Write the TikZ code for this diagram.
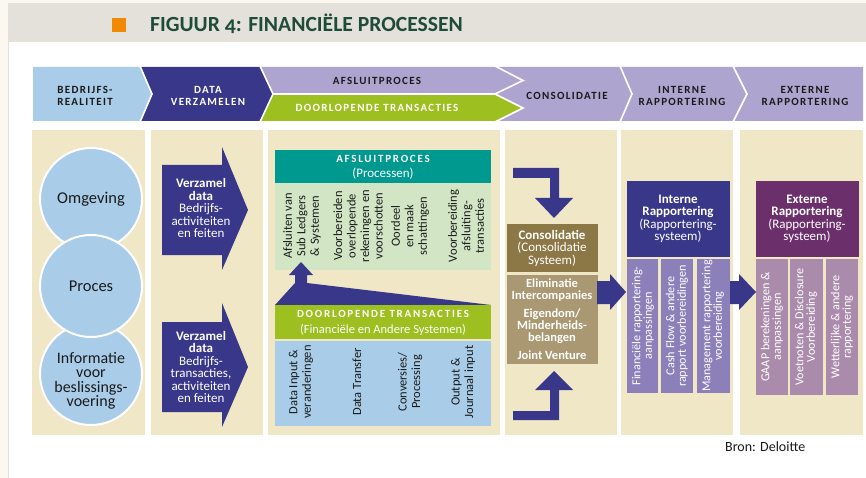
\documentclass[tikz,border=0pt]{standalone}
\usepackage{fontspec}
\setmainfont{Carlito}
\newfontfamily\capsfont[LetterSpace=12]{Carlito}
\newfontfamily\wcapsfont[LetterSpace=16]{Carlito}
\newfontfamily\titlefont[Numbers=OldStyle]{Carlito}
\usetikzlibrary{positioning}
\definecolor{pgoffwhite}{HTML}{FDF8EF}
\definecolor{pghead}{HTML}{E3E1DA}
\definecolor{pgtitle}{HTML}{1F4B3B}
\definecolor{pgorange}{HTML}{F08A00}
\definecolor{pgsky}{HTML}{A9CDE9}
\definecolor{pgnavy}{HTML}{393789}
\definecolor{pglav}{HTML}{ADA5CF}
\definecolor{pglime}{HTML}{9DBF1F}
\definecolor{pgbeige}{HTML}{F0E7C7}
\definecolor{pgteal}{HTML}{00998F}
\definecolor{pgmint}{HTML}{D2E6C6}
\definecolor{pgbrown}{HTML}{8C7846}
\definecolor{pgsand}{HTML}{AA9872}
\definecolor{pgviolet}{HTML}{8B80B9}
\definecolor{pgplum}{HTML}{6B2F6B}
\definecolor{pgmauve}{HTML}{AA8BAB}
\definecolor{pgink}{HTML}{1A1A1A}

\tikzset{
  sep/.style={draw=white,line width=1.6pt},
  caps/.style={font=\capsfont\fontsize{11}{12.5}\selectfont\bfseries,
               text=pgink,align=center,inner sep=0pt},
  boxcaps/.style={caps,text=white,font=\wcapsfont\fontsize{11}{12}\selectfont\bfseries},
  bubble/.style={circle,fill=pgsky,draw=white,line width=2pt,
                 minimum size=102pt,inner sep=0pt,align=center,
                 font=\fontsize{16.5}{14}\selectfont,text=pgink},
  wtxt/.style={text=white,align=center,inner sep=0pt,
               font=\fontsize{13}{12.5}\selectfont},
  coltxt/.style={rotate=90,align=center,inner sep=0pt,text=pgink,
                 font=\fontsize{12.5}{13.5}\selectfont},
  smallcol/.style={coltxt,text=white,font=\fontsize{12.2}{11.5}\selectfont},
}

\begin{document}
\begin{tikzpicture}[x=1pt,y=-1pt]
  \useasboundingbox (0,0) rectangle (866,478);

  % ---- Page and title bar ----------------------------------------
  \fill[pgoffwhite] (0,0) rectangle (866,478);
  \fill[white] (8,3) rectangle (866,478);
  \draw[black!12] (8.5,42) -- (8.5,478);
  \fill[pghead] (8,3) rectangle (866,42);
  \fill[pgorange] (112,18) rectangle (126,32);
  \node[anchor=base west,inner sep=0pt,text=pgtitle,
        font=\titlefont\fontsize{21.6}{21}\selectfont\bfseries]
    (title) at (150,32) {FIGUUR 4: FINANCIËLE PROCESSEN};

  % ---- Phase band --------------------------------------------------
  \fill[pgsky]  (33,67) -- (140,67) -- (152,94) -- (140,121) -- (33,121) -- cycle;
  \fill[pgnavy] (140,67) -- (260,67) -- (273,94) -- (260,121) -- (140,121)
                -- (152,94) -- cycle;
  \fill[pglav]  (260,67) -- (863,67) -- (863,121) -- (260,121) -- (273,94) -- cycle;
  \fill[pglime] (273,94) -- (495,94) -- (523,108) -- (495,121) -- (260,121) -- cycle;
  % white seams between the chevrons
  \draw[sep] (140,66) -- (152,94) -- (140,122);
  \draw[sep] (260,66) -- (273,94) -- (260,122);
  \draw[sep] (273,94) -- (495,94);
  \draw[sep] (495,66) -- (523,80.5) -- (495,94) -- (523,108) -- (495,122);
  \draw[sep] (620,66) -- (632,94) -- (620,122);
  \draw[sep] (733,66) -- (747,94) -- (733,122);

  \node[caps] (phreal) at (85,96) {BEDRIJFS-\\REALITEIT};
  \node[caps,text=white] (phdata) at (208,96) {DATA\\VERZAMELEN};
  \node[caps] (phclose) at (377,81) {AFSLUITPROCES};
  \node[caps,text=white] (phrun) at (377,108) {DOORLOPENDE TRANSACTIES};
  \node[caps] (phcons) at (567,96) {CONSOLIDATIE};
  \node[caps] (phint) at (682,96) {INTERNE\\RAPPORTERING};
  \node[caps] (phext) at (805,96) {EXTERNE\\RAPPORTERING};

  % ---- Column panels -----------------------------------------------
  \fill[pgbeige] (32,130) rectangle (145,435);
  \fill[pgbeige] (151,130) rectangle (263,435);
  \fill[pgbeige] (268,130) rectangle (500,435);
  \fill[pgbeige] (505,130) rectangle (617,435);
  \fill[pgbeige] (621,130) rectangle (733,435);
  \fill[pgbeige] (740,130) rectangle (863,435);

  % ---- Business reality --------------------------------------------
  \node[bubble] (omg) at (91,199) {Omgeving};
  \node[bubble] (info) at (91,374) {};
  \node[bubble] (proc) at (91,286) {Proces};
  \node[align=center,inner sep=0pt,text=pgink,
        font=\fontsize{16}{14.5}\selectfont]
    (infotxt) at (91,381) {Informatie\\voor\\beslissings-\\voering};

  % ---- Data collection arrows --------------------------------------
  \fill[pgnavy] (162,165) -- (222,165) -- (222,147) -- (248,210) -- (222,270)
                -- (222,255) -- (162,255) -- cycle;
  \node[wtxt] (coll1) at (201,208)
    {\textbf{Verzamel}\\\textbf{data}\\Bedrijfs-\\activiteiten\\en feiten};
  \fill[pgnavy] (162,322) -- (222,322) -- (222,303) -- (248,367) -- (222,427)
                -- (222,412) -- (162,412) -- cycle;
  \node[wtxt] (coll2) at (201,367)
    {\textbf{Verzamel}\\\textbf{data}\\Bedrijfs-\\transacties,\\activiteiten\\en feiten};

  % ---- Closing process and running transactions --------------------
  \fill[pgteal] (275,150) rectangle (491,183);
  \fill[pgmint] (275,183) rectangle (491,270);
  \node[boxcaps] (closehd) at (383,159) {AFSLUITPROCES};
  \node[wtxt] (closesub) at (383,174) {(Processen)};
  \node[coltxt] (cl1) at (302,226) {Afsluiten van\\Sub Ledgers\\\& Systemen};
  \node[coltxt] (cl2) at (358,226) {Voorbereiden\\overlopende\\rekeningen en\\voorschotten};
  \node[coltxt] (cl3) at (410,226) {Oordeel\\en maak\\schattingen};
  \node[coltxt] (cl4) at (466,226) {Voorbereiding\\afsluiting-\\transacties};

  % feed from running transactions up into closing
  \fill[pgnavy] (275,305) -- (295,283) -- (295,275) -- (289,275) -- (301,262)
                -- (313,275) -- (307,275) -- (307,283) -- (491,305) -- cycle;

  \fill[pglime] (275,305) rectangle (491,339);
  \fill[pgsky] (275,341) rectangle (491,426);
  \node[boxcaps] (runhd) at (383,314) {DOORLOPENDE TRANSACTIES};
  \node[wtxt,font=\fontsize{12.5}{12.5}\selectfont] (runsub) at (383,330)
    {(Financiële en Andere Systemen)};
  \node[coltxt] (rt1) at (301,382) {Data Input \&\\veranderingen};
  \node[coltxt] (rt2) at (357,382) {Data Transfer};
  \node[coltxt] (rt3) at (410,382) {Conversies/\\Processing};
  \node[coltxt] (rt4) at (463,382) {Output \&\\Journaal input};

  % ---- Consolidation -----------------------------------------------
  \fill[pgnavy] (513,168) -- (559,168) -- (559,198) -- (573,198) -- (554,218)
                -- (535,198) -- (550,198) -- (550,178) -- (513,178) -- cycle;
  \fill[pgbrown] (507,224) rectangle (598,272);
  \node[wtxt] (cons) at (552,248)
    {\textbf{Consolidatie}\\(Consolidatie\\Systeem)};
  \fill[pgsand] (507,275) rectangle (598,364);
  \node[wtxt,font=\fontsize{12.5}{12}\selectfont\bfseries] (elim) at (552,319)
    {Eliminatie\\Intercompanies\\[6pt]Eigendom/\\Minderheids-\\belangen\\[6pt]Joint Venture};
  \fill[pgnavy] (513,420) -- (559,420) -- (559,390) -- (573,390) -- (554,371)
                -- (535,390) -- (550,390) -- (550,411) -- (513,411) -- cycle;
  \fill[pgnavy] (597,281) -- (610,281) -- (610,274) -- (626,292) -- (610,310)
                -- (610,304) -- (597,304) -- cycle;

  % ---- Internal reporting ------------------------------------------
  \fill[pgnavy] (627,181) rectangle (730,257);
  \node[wtxt] (inthd) at (678,219)
    {\textbf{Interne}\\\textbf{Rapportering}\\(Rapportering-\\systeem)};
  \fill[pgviolet] (627,259) rectangle (658,393);
  \fill[pgviolet] (661,259) rectangle (693,393);
  \fill[pgviolet] (697,259) rectangle (730,393);
  \node[smallcol] (ir1) at (643,326) {Financiële rapportering-\\aanpassingen};
  \node[smallcol] (ir2) at (677,326) {Cash Flow \& andere\\rapport voorbereidingen};
  \node[smallcol] (ir3) at (713,326) {Management rapportering\\voorbereiding};

  \fill[pgnavy] (730,281) -- (739,281) -- (739,274) -- (756,292) -- (739,310)
                -- (739,304) -- (730,304) -- cycle;

  % ---- External reporting ------------------------------------------
  \fill[pgplum] (756,181) rectangle (859,257);
  \node[wtxt] (exthd) at (807,219)
    {\textbf{Externe}\\\textbf{Rapportering}\\(Rapportering-\\systeem)};
  \fill[pgmauve] (756,259) rectangle (788,395);
  \fill[pgmauve] (790,259) rectangle (823,395);
  \fill[pgmauve] (826,259) rectangle (858,395);
  \node[smallcol] (er1) at (772,327) {GAAP berekeningen \&\\aanpassingen};
  \node[smallcol] (er2) at (806,327) {Voetnoten \& Disclosure\\Voorbereiding};
  \node[smallcol] (er3) at (842,327) {Wetterlijke \& andere\\rapportering};

  \node[anchor=west,inner sep=0pt,text=pgink,font=\fontsize{14}{14}\selectfont]
    (src) at (725,447) {Bron: Deloitte};
\end{tikzpicture}
\end{document}
